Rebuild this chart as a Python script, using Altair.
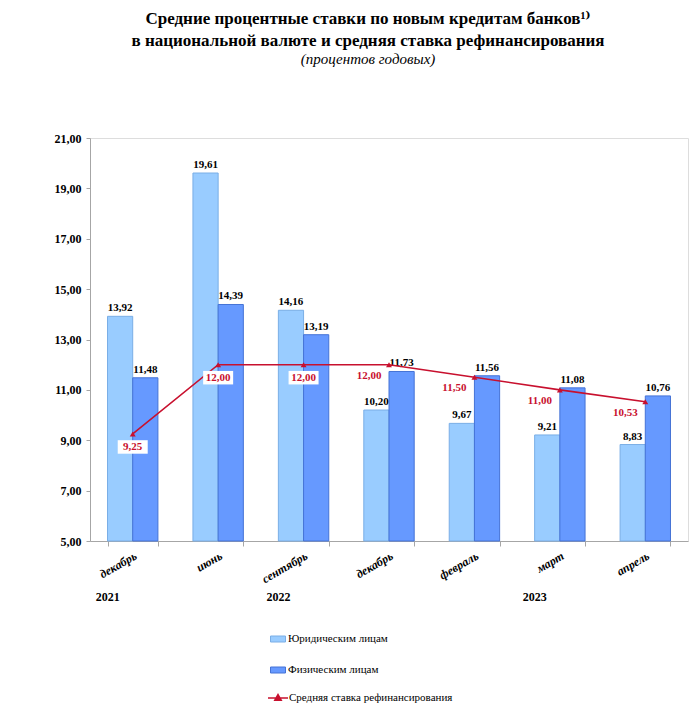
import altair as alt
import pandas as pd

SERIF = "'Liberation Serif', 'Times New Roman', 'DejaVu Serif', serif"
RED = '#c8102e'

# categories (period keys; the month name is shown on the axis)
periods = ['декабрь 2021', 'июнь 2022', 'сентябрь 2022', 'декабрь 2022',
           'февраль 2023', 'март 2023', 'апрель 2023']
series = ['Юридическим лицам', 'Физическим лицам']
line_name = 'Средняя ставка рефинансирования'

# values
jur = [13.92, 19.61, 14.16, 10.20, 9.67, 9.21, 8.83]
fiz = [11.48, 14.39, 13.19, 11.73, 11.56, 11.08, 10.76]
refin = [9.25, 12.00, 12.00, 12.00, 11.50, 11.00, 10.53]

# axis ticks and year labels
y_ticks = [5, 7, 9, 11, 13, 15, 17, 19, 21]
years = ['2021', '2022', '2023']
year_at = ['декабрь 2021', 'сентябрь 2022', 'март 2023']

dfBars = pd.DataFrame({
    'period': periods * 2,
    'series': [series[0]] * len(jur) + [series[1]] * len(fiz),
    'value': jur + fiz,
})
dfRefin = pd.DataFrame({'period': periods, 'value': refin,
                        'name': line_name, 'idx': list(range(len(refin)))})
dfYears = pd.DataFrame({'period': year_at, 'year': years})

fmt = "replace(format(datum.value, '.2f'), '.', ',')"
BOX = 'M-1,-0.45H1V0.45H-1Z'

xEnc = alt.X('period:N', sort=periods,
             scale=alt.Scale(paddingInner=0.41, paddingOuter=0.205),
             axis=alt.Axis(title=None, labelExpr="split(datum.label, ' ')[0]",
                           labelAngle=-30, labelAlign='right', labelBaseline='top',
                           labelFont=SERIF, labelFontSize=12, labelFontStyle='italic',
                           labelFontWeight='bold', labelColor='black', labelPadding=4,
                           tickBand='extent', tickSize=5,
                           domainColor='#a6a6a6', tickColor='#a6a6a6'))
yEnc = alt.Y('value:Q', scale=alt.Scale(domain=[5, 21], nice=False, zero=False),
             axis=alt.Axis(title=None, values=y_ticks, grid=False,
                           labelExpr=fmt, labelFont=SERIF, labelFontSize=12,
                           labelFontWeight='bold', labelColor='black', labelPadding=5,
                           tickSize=4, domainColor='#a6a6a6', tickColor='#a6a6a6'))
xOff = alt.XOffset('series:N', sort=series)

bars = alt.Chart(dfBars).mark_bar(strokeWidth=1).encode(
    x=xEnc, xOffset=xOff, y=yEnc, y2=alt.datum(5),
    color=alt.Color('series:N', sort=series,
                    scale=alt.Scale(domain=series, range=['#99ccff', '#6699ff']),
                    legend=alt.Legend(title=None, orient='none', legendX=180, legendY=493,
                                      direction='vertical', rowPadding=18,
                                      symbolType='M-1,-0.4H1V0.4H-1Z', symbolSize=225,
                                      symbolStrokeColor='#4f7fd0', symbolStrokeWidth=1,
                                      labelFont=SERIF, labelFontSize=11, labelColor='black',
                                      labelOffset=2, labelLimit=300)),
    stroke=alt.Stroke('series:N', sort=series,
                      scale=alt.Scale(domain=series, range=['#7aaee6', '#4573d6']),
                      legend=None))

barLabels = alt.Chart(dfBars).transform_calculate(lbl=fmt).mark_text(
    baseline='bottom', dy=-3, font=SERIF, fontSize=11, fontWeight='bold', color='black'
).encode(x=xEnc, xOffset=xOff, y=yEnc, text='lbl:N')

line = alt.Chart(dfRefin).mark_line(color=RED, strokeWidth=1.6).encode(x=xEnc, y=yEnc)

points = alt.Chart(dfRefin).mark_point(shape='triangle-up', filled=True, size=35, opacity=1).encode(
    x=xEnc, y=yEnc,
    fill=alt.Fill('name:N', scale=alt.Scale(range=[RED]),
                  legend=alt.Legend(title=None, orient='none', legendX=178, legendY=550,
                                    symbolType='M-1,-0.07H1V0.07H-1Z M0,-0.5L0.45,0.3L-0.45,0.3Z',
                                    symbolSize=400, symbolStrokeWidth=0,
                                    labelFont=SERIF, labelFontSize=11, labelColor='black',
                                    labelOffset=1, labelLimit=300)))

boxes = alt.Chart(dfRefin).transform_filter('datum.idx < 3').mark_point(
    shape=BOX, filled=True, color='white', size=900, opacity=1, yOffset=13
).encode(x=xEnc, y=yEnc)

lblNear = alt.Chart(dfRefin).transform_filter('datum.idx < 3').transform_calculate(lbl=fmt).mark_text(
    dy=13, font=SERIF, fontSize=11, fontWeight='bold', color=RED
).encode(x=xEnc, y=yEnc, text='lbl:N')

lblFar = alt.Chart(dfRefin).transform_filter('datum.idx >= 3').transform_calculate(lbl=fmt).mark_text(
    dx=-20, dy=11, font=SERIF, fontSize=11, fontWeight='bold', color=RED
).encode(x=xEnc, y=yEnc, text='lbl:N')

yearsTxt = alt.Chart(dfYears).mark_text(
    dx=-25, font=SERIF, fontSize=12, fontWeight='bold', color='black'
).encode(x=xEnc, y=alt.value(459), text='year:N')

chart = alt.layer(bars, barLabels, line, points, boxes, lblNear, lblFar, yearsTxt).properties(
    width=598, height=403,
    autosize='none',
    padding={'left': 82, 'top': 130, 'right': 1, 'bottom': 170},
    title=alt.TitleParams(
        text=['Средние процентные ставки по новым кредитам банков¹⁾',
              'в национальной валюте и средняя ставка рефинансирования'],
        subtitle='(процентов годовых)',
        font=SERIF, fontSize=17, fontWeight='bold', color='black', lineHeight=22,
        subtitleFont=SERIF, subtitleFontSize=15, subtitleFontStyle='italic',
        subtitleColor='black', subtitlePadding=2,
        anchor='middle', dx=-21, offset=64)
).configure_view(stroke=None).configure(background='white')

chart.save("out.html", embed_options={"renderer": "svg", "actions": False})
